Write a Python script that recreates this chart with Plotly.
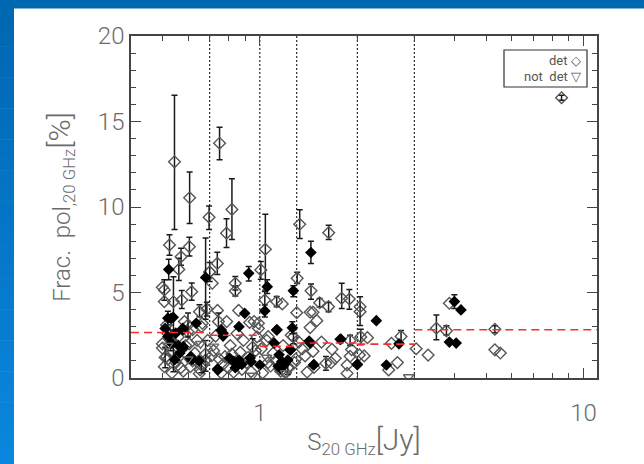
import math
import plotly.graph_objects as go

# ---------------- data ----------------
# Detected sources (open diamonds) with error bars: flux [Jy], pol. fraction [%], +err, -err
det_err_s = [0.545, 0.751, 0.607, 0.697, 0.820, 0.789, 1.04, 1.328, 1.632, 8.55,
             0.526, 0.606, 0.562, 0.739, 1.007, 1.304, 0.84, 1.439, 0.616, 0.574,
             0.541, 0.507, 1.036, 1.79, 1.89, 2.04, 0.651, 0.686, 3.51, 3.77,
             5.32, 1.60, 1.90, 2.05, 0.68, 1.127, 1.53, 1.63, 2.73, 1.27,
             0.571, 0.70, 0.84, 0.745, 0.51, 0.66, 0.95, 1.22, 0.53, 0.60]
det_err_p = [12.64, 13.73, 10.54, 9.40, 9.86, 8.47, 7.53, 8.99, 8.50, 16.39,
             7.78, 7.68, 6.35, 6.70, 6.32, 5.83, 5.54, 5.10, 5.05, 4.56,
             4.46, 5.15, 4.56, 4.66, 4.62, 4.17, 3.88, 4.03, 2.91, 2.76,
             2.85, 0.86, 2.20, 2.40, 1.40, 4.46, 4.40, 4.17, 2.43, 2.40,
             7.09, 6.20, 5.09, 3.30, 1.20, 0.75, 1.80, 0.60, 2.20, 3.10]
det_err_up = [3.90, 0.93, 1.50, 0.66, 1.79, 0.85, 2.04, 0.85, 0.43, 0.15,
              0.60, 0.55, 0.65, 0.65, 0.50, 0.35, 0.40, 0.40, 0.50, 0.55,
              1.46, 0.60, 0.50, 0.88, 0.55, 0.58, 0.40, 0.40, 0.78, 0.30,
              0.20, 0.40, 0.30, 0.45, 0.80, 0.30, 0.25, 0.25, 0.35, 0.40,
              0.50, 0.55, 0.30, 0.50, 0.60, 0.45, 0.50, 0.40, 0.60, 0.70]
det_err_dn = [3.96, 0.97, 1.51, 0.72, 1.76, 0.84, 2.38, 0.83, 0.40, 0.15,
              0.60, 0.55, 0.65, 0.65, 0.55, 0.30, 0.40, 0.50, 0.50, 0.50,
              4.09, 0.60, 0.50, 0.60, 0.60, 1.10, 0.30, 0.40, 0.68, 0.25,
              0.20, 0.40, 0.30, 0.45, 1.00, 0.30, 0.25, 0.30, 0.35, 0.40,
              0.50, 0.55, 0.30, 0.50, 0.60, 0.45, 0.50, 0.40, 0.60, 0.70]

# Detected sources (open diamonds) without plotted error bars
det_s = [0.507, 0.50, 1.30, 1.43, 1.46, 1.50, 1.43, 2.04, 2.15, 2.55,
         2.50, 2.66, 1.47, 1.66, 1.71, 1.67, 1.86, 1.86, 1.90, 1.92,
         2.03, 2.10, 1.46, 1.38, 3.04, 3.31, 5.32, 5.53, 3.85, 1.061,
         1.173, 0.664, 0.74, 0.86, 0.93, 0.96, 0.99, 0.62, 0.66, 0.654,
         0.507, 0.515, 0.50, 0.50, 0.61, 0.68, 0.94, 0.713, 0.70, 0.52,
         0.53, 0.55, 0.56, 0.58, 0.59, 0.63, 0.64, 0.67, 0.72, 0.73,
         0.76, 0.78, 0.80, 0.81, 0.83, 0.87, 0.89, 0.91, 0.97, 1.02,
         1.05, 1.08, 1.10, 1.15, 1.18, 1.20, 1.25, 1.28, 1.32, 1.35,
         0.52, 0.54, 0.57, 0.60, 0.62, 0.65, 0.69, 0.71, 0.77, 0.79,
         0.82, 0.85, 0.88, 0.92, 0.98, 1.01, 1.12, 1.16, 1.23, 1.29,
         0.515, 0.535, 0.56, 0.585, 0.605, 0.75, 0.99, 1.06, 1.40, 1.55]
det_p = [4.47, 5.30, 3.82, 3.85, 3.85, 3.35, 2.95, 3.88, 2.36, 2.03,
         0.47, 0.90, 0.62, 0.90, 1.15, 1.68, 0.76, 0.27, 1.27, 1.66,
         1.35, 1.29, 1.56, 1.29, 1.71, 1.34, 1.65, 1.46, 4.37, 2.42,
         4.33, 3.20, 3.95, 3.95, 3.25, 3.30, 3.20, 2.83, 3.00, 0.47,
         0.66, 1.25, 2.00, 1.75, 0.66, 1.05, 0.37, 5.54, 6.20, 2.60,
         1.50, 0.90, 2.40, 0.40, 1.90, 1.45, 2.20, 0.80, 1.60, 2.45,
         0.30, 1.25, 0.60, 1.90, 0.35, 1.50, 2.20, 0.90, 1.60, 0.30,
         2.20, 0.70, 1.45, 0.55, 1.90, 0.30, 2.50, 0.90, 2.10, 1.70,
         1.10, 2.10, 0.60, 2.70, 1.00, 0.25, 2.20, 1.30, 0.80, 3.30,
         1.40, 2.60, 0.50, 1.20, 2.40, 1.70, 1.00, 0.40, 0.60, 1.10,
         3.10, 0.30, 1.20, 3.30, 2.00, 1.10, 2.90, 0.90, 0.35, 2.10]

# Second sub-sample (filled diamonds) with error bars
fil_err_s = [0.523, 1.438, 0.924, 1.054, 1.269, 0.68, 1.036, 3.99, 0.52, 1.26]
fil_err_p = [6.35, 7.34, 6.12, 5.34, 5.10, 5.88, 3.92, 4.47, 3.50, 2.94]
fil_err_up = [0.60, 0.65, 0.40, 0.40, 0.30, 2.30, 0.35, 0.40, 0.40, 0.35]
fil_err_dn = [0.60, 0.65, 0.45, 0.40, 0.35, 2.45, 0.35, 0.40, 0.40, 0.35]

# Filled diamonds without plotted error bars
fil_s = [0.898, 0.532, 0.54, 2.29, 4.18, 3.85, 4.04, 1.13, 0.76, 0.77,
         0.862, 1.127, 1.77, 2.69, 2.00, 2.46, 1.464, 1.42, 1.24, 1.00,
         0.94, 0.862, 0.742, 0.636, 0.578, 0.578, 0.613, 0.52, 0.55, 0.578,
         0.58, 0.606, 0.617, 0.546, 0.533, 0.566, 0.77, 0.74, 0.83, 0.806,
         0.933, 1.107, 1.147, 1.17, 1.19, 1.14, 1.245, 1.43, 1.47, 1.78,
         2.00, 0.51, 0.56, 0.65, 0.84, 0.88, 1.16, 1.22]
fil_p = [3.78, 3.49, 3.55, 3.35, 3.98, 2.10, 2.04, 2.82, 2.81, 2.45,
         3.00, 2.81, 2.26, 2.00, 0.80, 0.76, 0.76, 2.16, 1.64, 0.76,
         0.95, 1.05, 0.47, 3.20, 2.90, 1.75, 1.25, 2.43, 2.62, 2.82,
         1.84, 1.17, 1.07, 1.07, 2.04, 1.46, 2.62, 0.52, 0.97, 1.17,
         1.17, 2.04, 1.36, 0.97, 0.78, 0.68, 1.65, 2.04, 0.78, 2.27,
         0.78, 2.90, 1.90, 1.00, 0.60, 0.80, 0.55, 1.05]

# Non-detections (upper limits)
ndet_s = [2.88, 0.656, 0.52, 0.60, 1.05, 0.95, 1.20, 0.72]
ndet_p = [0.06, 2.00, 1.90, 1.10, 1.20, 0.15, 0.30, 1.85]

# Flux-density bin edges and median polarization fraction in each bin
bin_edges = [0.4, 0.7, 1.0, 1.3, 2.0, 3.0, 11.0]
bin_median = [2.66, 2.50, 1.85, 2.05, 1.98, 2.82]

# ---------------- styling ----------------
W, H = 644, 464
ML, MR, MT, MB = 131, 47, 36, 86
PW, PH = W - ML - MR, H - MT - MB
TXT = "#6b6b6b"
FONT = "Roboto"
MSIZE = 9


def px(xpix):
    return (xpix - ML) / PW


def py(ypix):
    return (H - MB - ypix) / PH


fig = go.Figure()

# bin boundaries (dotted verticals)
for xe in bin_edges[1:-1]:
    fig.add_trace(go.Scatter(x=[xe, xe], y=[0, 20], mode="lines",
                             line=dict(color="black", width=1, dash="2px,2px"),
                             hoverinfo="skip", showlegend=False))

# open diamonds
open_marker = dict(symbol="diamond-open", size=MSIZE, color="#555555", line=dict(width=1.4))
fig.add_trace(go.Scatter(x=det_s, y=det_p, mode="markers", marker=open_marker,
                         showlegend=False))
fig.add_trace(go.Scatter(
    x=det_err_s, y=det_err_p, mode="markers", marker=open_marker,
    error_y=dict(type="data", array=det_err_up, arrayminus=det_err_dn,
                 color="#1a1a1a", thickness=1.5, width=3),
    showlegend=False))

# filled diamonds
fill_marker = dict(symbol="diamond", size=MSIZE, color="black")
fig.add_trace(go.Scatter(x=fil_s, y=fil_p, mode="markers", marker=fill_marker,
                         showlegend=False))
fig.add_trace(go.Scatter(
    x=fil_err_s, y=fil_err_p, mode="markers", marker=fill_marker,
    error_y=dict(type="data", array=fil_err_up, arrayminus=fil_err_dn,
                 color="#1a1a1a", thickness=1.5, width=3),
    showlegend=False))

# upper limits
fig.add_trace(go.Scatter(
    x=ndet_s, y=ndet_p, mode="markers",
    marker=dict(symbol="triangle-down-open", size=9, color="#666666", line=dict(width=1.4)),
    showlegend=False))

# median per bin (red dashed)
for i, m in enumerate(bin_median):
    fig.add_trace(go.Scatter(x=[bin_edges[i], bin_edges[i + 1]], y=[m, m], mode="lines",
                             line=dict(color="#ff2a2a", width=1.6, dash="8px,5px"),
                             hoverinfo="skip", showlegend=False))

# ---------------- frame / background ----------------
shapes = []
# dark blue top band
shapes.append(dict(type="rect", xref="paper", yref="paper", layer="below",
                   x0=px(0), x1=px(W), y0=py(8.5), y1=py(0),
                   fillcolor="#0067b1", line=dict(width=0)))
# left band with vertical gradient
n = 30
c0 = (0, 103, 177)
c1 = (10, 134, 222)
for k in range(n):
    t = k / (n - 1)
    col = "rgb(%d,%d,%d)" % tuple(round(a + (b - a) * t) for a, b in zip(c0, c1))
    y_top = k * H / n
    y_bot = (k + 1) * H / n + 0.5
    shapes.append(dict(type="rect", xref="paper", yref="paper", layer="below",
                       x0=px(0), x1=px(14), y0=py(y_bot), y1=py(y_top),
                       fillcolor=col, line=dict(width=0)))
# legend box
shapes.append(dict(type="rect", xref="paper", yref="paper",
                   x0=px(504), x1=px(587), y0=py(87), y1=py(50),
                   fillcolor="white", line=dict(color="#333333", width=1.2)))

annotations = [
    dict(xref="paper", yref="paper", x=px(583), y=py(61), xanchor="right", yanchor="middle",
         text="det \u25c7", showarrow=False, font=dict(family=FONT, size=13, color="#555")),
    dict(xref="paper", yref="paper", x=px(583), y=py(76), xanchor="right", yanchor="middle",
         text="not  det \u25bd", showarrow=False, font=dict(family=FONT, size=13, color="#555")),
]

axis_common = dict(
    showline=True, linecolor="#444444", linewidth=1.5, mirror="allticks",
    ticks="inside", ticklen=10, tickwidth=1.3, tickcolor="#444444",
    showgrid=False, zeroline=False,
    tickfont=dict(family=FONT, size=24, color=TXT, weight=300),
)

fig.update_layout(
    width=W, height=H,
    margin=dict(l=ML, r=MR, t=MT, b=MB, pad=0),
    paper_bgcolor="white", plot_bgcolor="white",
    shapes=shapes, annotations=annotations,
    showlegend=False,
    xaxis=dict(
        type="log", range=[math.log10(0.4), math.log10(11.0)],
        tickvals=[1, 10], ticktext=["1", "10"], ticklabelstandoff=12,
        minor=dict(ticks="inside", ticklen=5, tickwidth=1.2, tickcolor="#444444",
                   tickvals=[0.5, 0.6, 0.7, 0.8, 0.9, 2, 3, 4, 5, 6, 7, 8, 9]),
        title=dict(text="S<sub>20 GHz</sub><span style='font-size:30px'>[Jy]</span>",
                   font=dict(family=FONT, size=24, color=TXT, weight=300), standoff=8),
        **axis_common,
    ),
    yaxis=dict(
        range=[0, 20], tickvals=[0, 5, 10, 15, 20],
        minor=dict(ticks="inside", ticklen=5, tickwidth=1.2, tickcolor="#444444", dtick=1),
        title=dict(text="Frac.  pol<sub>,20 GHz</sub><span style='font-size:30px'>[%]</span>",
                   font=dict(family=FONT, size=24, color=TXT, weight=300), standoff=20),
        **axis_common,
    ),
)

fig.write_html("out.html")
